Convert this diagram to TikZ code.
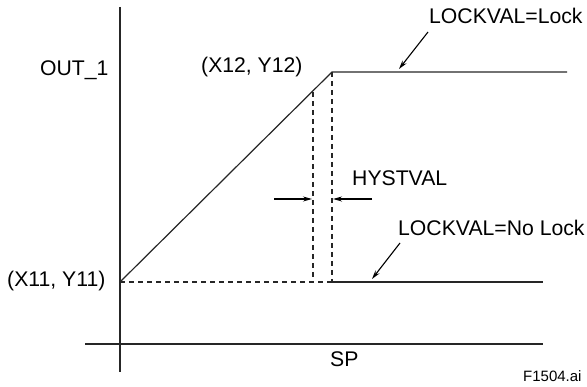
\documentclass[tikz,border=0pt]{standalone}
\usepackage{fontspec}
\setmainfont{Liberation Sans}
\usetikzlibrary{arrows.meta}
\begin{document}
\begin{tikzpicture}[x=1pt,y=-1pt,
  lbl/.style={inner sep=0pt,anchor=west,text height=0.72em,text depth=0pt,font=\fontsize{21.2}{25}\selectfont},
  ln/.style={line width=1.2pt,black!85},
  dsh/.style={ln,dash pattern=on 5pt off 4pt},
  arr/.style={line width=1.1pt,-{Stealth[length=9pt,width=5pt]}}]
\useasboundingbox (0,0) rectangle (587,387);
% axes
\coordinate (ytop) at (120,7);
\coordinate (ybot) at (120,372);
\coordinate (xl) at (85,344);
\coordinate (xr) at (543,344);
\draw[ln] (ytop) -- (ybot);
\draw[ln] (xl) -- (xr);
% key points
\coordinate (p11) at (120,282);
\coordinate (p12) at (332,72);
\coordinate (upend) at (567,72);
\coordinate (lo) at (332,282);
\coordinate (loend) at (543,282);
\coordinate (h1t) at (313,92);
\coordinate (h1b) at (313,282);
\draw[ln] (p11) -- (p12) -- (upend);
\draw[ln] (lo) -- (loend);
\draw[dsh] (p11) -- (lo);
\draw[dsh] (p12) -- (lo);
\draw[dsh] (h1t) -- (h1b);
% hysteresis arrows
\coordinate (al) at (274,199);
\coordinate (alt) at (312,199);
\coordinate (ar) at (372,199);
\coordinate (art) at (333,199);
\draw[arr] (al) -- (alt);
\draw[arr] (ar) -- (art);
% labels
\node[lbl] (out) at (40,72) {OUT\_1};
\node[lbl] (x12) at (201,69) {(X12, Y12)};
\node[lbl] (lock) at (429,20) {LOCKVAL=Lock};
\node[lbl] (hyst) at (352,182) {HYSTVAL};
\node[lbl] (nolock) at (398,232) {LOCKVAL=No Lock};
\node[lbl] (x11) at (7,283) {(X11, Y11)};
\node[lbl] (sp) at (330,363) {SP};
\node[lbl,font=\fontsize{15}{18}\selectfont] (fig) at (523,378) {F1504.ai};
% leader arrows
\coordinate (lk1) at (428,32);
\coordinate (lk2) at (399,69);
\coordinate (nl1) at (400,243);
\coordinate (nl2) at (372,279);
\draw[arr] (lk1) -- (lk2);
\draw[arr] (nl1) -- (nl2);
\end{tikzpicture}
\end{document}
